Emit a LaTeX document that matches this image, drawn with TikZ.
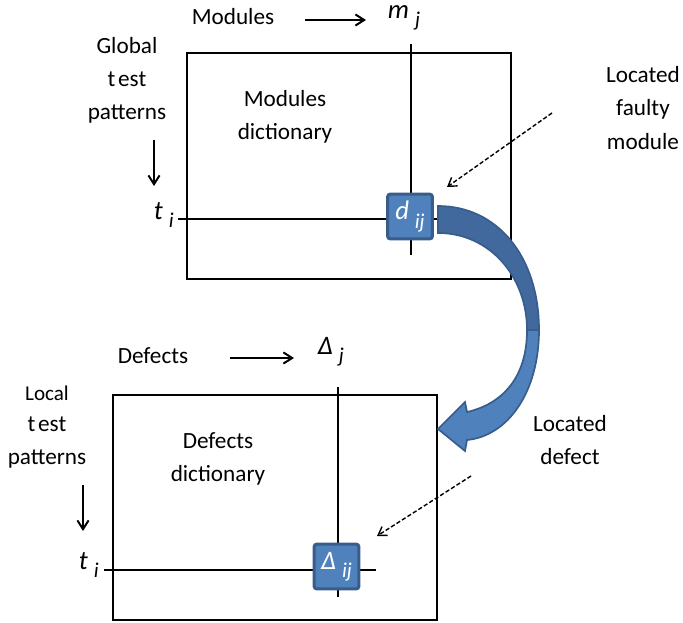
\documentclass[tikz,border=0pt]{standalone}
\usepackage{fontspec}
\setmainfont{Carlito}
\usetikzlibrary{arrows.meta, positioning}
\definecolor{cellblue}{HTML}{4F81BD}
\definecolor{celledge}{HTML}{385D8A}
\definecolor{bandblue}{HTML}{41699E}
\newcommand{\idx}[2]{#1\hspace{0.22em}\raisebox{-0.65ex}{\fontsize{15}{16}\selectfont #2}}

\begin{document}
\begin{tikzpicture}[x=0.025cm, y=-0.025cm, line width=1.4pt,
  >={Straight Barb[length=2.2mm, width=2.8mm]},
  lbl/.style={font=\fontsize{16.5}{23.5}\selectfont, align=center, inner sep=0pt},
  var/.style={font=\fontsize{19}{20}\selectfont\itshape, inner sep=0pt},
  cell/.style={draw=celledge, fill=cellblue, line width=2.2pt, rounded corners=2pt,
    minimum width=1.12cm, minimum height=1.12cm, inner sep=0pt, text=white,
    font=\fontsize{19}{20}\selectfont\itshape},
  hint/.style={->, line width=1pt, dash pattern=on 3pt off 1.6pt,
    >={Straight Barb[length=2mm, width=2.6mm]}}]

\useasboundingbox (0,0) rectangle (683,623);

% --- Modules dictionary ---
\draw (187,53) rectangle (511,279);
\coordinate (mcolT) at (411,44);
\coordinate (mcolB) at (411,255);
\coordinate (mrowL) at (178,219);
\coordinate (mrowR) at (441,219);
\draw (mcolT) -- (mcolB);
\draw (mrowL) -- (mrowR);
\node[cell] (dij) at (410,216.5) {\idx{d}{ij}};

\node[lbl] (modules) at (233,17) {Modules};
\coordinate (modA) at (305,20);
\coordinate (modB) at (366,20);
\draw[->] (modA) -- (modB);
\node[var, anchor=west] (mj) at (387,18) {\idx{m}{j}};

\node[lbl] (global) at (127,80) {Global\\t\hspace{0.12em}est\\patterns};
\coordinate (gloA) at (154,140);
\coordinate (gloB) at (154,186);
\draw[->] (gloA) -- (gloB);
\node[var, anchor=west] (ti1) at (153,215) {\idx{t}{i}};

\node[lbl] (mdict) at (285,117) {Modules\\dictionary};
\node[lbl] (faulty) at (643,108) {Located\\faulty\\module};
\coordinate (fltA) at (552,113);
\coordinate (fltB) at (447,187);
\draw[hint] (fltA) -- (fltB);

% --- Defects dictionary ---
\draw (113,395) rectangle (437,620);
\coordinate (dcolT) at (338,387);
\coordinate (dcolB) at (338,597);
\coordinate (drowL) at (104,570);
\coordinate (drowR) at (376,570);
\draw (dcolT) -- (dcolB);
\draw (drowL) -- (drowR);
\node[cell] (Dij) at (336.5,566.5) {\idx{Δ}{ij}};

\node[lbl] (defects) at (153,356) {Defects};
\coordinate (defA) at (230,358);
\coordinate (defB) at (294,358);
\draw[->] (defA) -- (defB);
\node[var, anchor=west] (Dj) at (317,352) {\idx{Δ}{j}};

\node[lbl, font=\fontsize{15}{23.5}\selectfont] (local) at (47,393) {Local};
\node[lbl] (ltest) at (47,443) {t\hspace{0.12em}est\\patterns};
\coordinate (locA) at (83,485);
\coordinate (locB) at (83,531);
\draw[->] (locA) -- (locB);
\node[var, anchor=west] (ti2) at (78,565) {\idx{t}{i}};

\node[lbl] (ddict) at (218,459) {Defects\\dictionary};
\node[lbl] (located) at (570,440) {Located\\defect};
\coordinate (dfcA) at (471,476);
\coordinate (dfcB) at (377,536);
\draw[hint] (dfcA) -- (dfcB);

% --- Curved arrow from d_ij to the defects dictionary ---
\fill[bandblue, draw=celledge, line width=1.2pt]
  (438,206) .. controls (497,206) and (539,256) .. (539,330)
  -- (527,330) .. controls (527,277) and (490,233) .. (438,233) -- cycle;
\fill[cellblue, draw=celledge, line width=1.2pt]
  (539,330) .. controls (539,392) and (508,436) .. (467,440)
  -- (465,451) -- (438,429) -- (465,402) -- (467,412)
  .. controls (502,404) and (527,378) .. (527,330) -- cycle;

\end{tikzpicture}
\end{document}
